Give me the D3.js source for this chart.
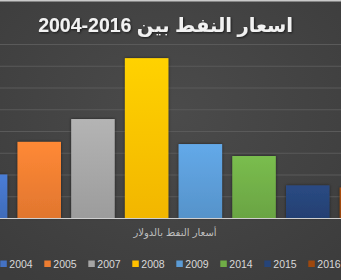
<!DOCTYPE html>
<html>
<head>
<meta charset="utf-8">
<script src="https://cdn.jsdelivr.net/npm/d3@7"></script>
<style>
  html, body { margin: 0; padding: 0; background: #424242; overflow: hidden; }
  svg { display: block; }
</style>
</head>
<body>
<svg></svg>
<script>
const width = 341;
const height = 280;

// data (oil price, dollars)
const years = ['2004', '2005', '2007', '2008', '2009', '2014', '2015', '2016'];
const prices = [40, 70, 91, 147, 68, 57, 30, 28];
const colors = ['#4472c4', '#ed7d31', '#a5a5a5', '#ffc000', '#5b9bd5', '#70ad47', '#264478', '#9e480e'];
const yTicks = [0, 20, 40, 60, 80, 100, 120, 140, 160];

// numbers after arabic letters are laid out right to left, so 2016 comes first here
const titleText = 'اسعار النفط بين 2016-2004';
const axisTitle = 'أسعار النفط بالدولار';

let data = years.map((y, i) => ({ year: y, price: prices[i], color: colors[i] }));

// the chart is cropped on both sides, so the band range runs past the edges
let xScale = d3.scaleBand()
               .domain(years)
               .range([-41.3, 388.3])
               .paddingInner(0.19)
               .paddingOuter(0.095);

let yScale = d3.scaleLinear()
               .domain([0, 160])
               .range([218, 44]);

let svg = d3.select('svg')
            .attr('width', width)
            .attr('height', height);

let defs = svg.append('defs');

let bg = defs.append('radialGradient')
  .attr('id', 'bg')
  .attr('cx', '50%').attr('cy', '40%').attr('r', '75%');
bg.append('stop').attr('offset', '0%').attr('stop-color', '#4b4b4b');
bg.append('stop').attr('offset', '100%').attr('stop-color', '#3c3c3c');

data.forEach((d, i) => {
  let g = defs.append('linearGradient')
    .attr('id', 'bar' + i)
    .attr('x1', 0).attr('y1', 0).attr('x2', 0).attr('y2', 1);
  g.append('stop').attr('offset', '0%').attr('stop-color', d3.color(d.color).brighter(0.25));
  g.append('stop').attr('offset', '100%').attr('stop-color', d3.color(d.color).darker(0.15));
});

let shadow = defs.append('filter')
  .attr('id', 'shadow')
  .attr('x', '-20%').attr('y', '-20%').attr('width', '140%').attr('height', '140%');
shadow.append('feDropShadow')
  .attr('dx', 0).attr('dy', 0).attr('stdDeviation', 1.6)
  .attr('flood-color', '#000').attr('flood-opacity', 0.55);

let tshadow = defs.append('filter').attr('id', 'tshadow');
tshadow.append('feDropShadow')
  .attr('dx', 1).attr('dy', 1).attr('stdDeviation', 0.8)
  .attr('flood-color', '#000').attr('flood-opacity', 0.6);

svg.append('rect')
  .attr('width', width)
  .attr('height', height)
  .attr('fill', 'url(#bg)');

svg.append('rect')
  .attr('width', width)
  .attr('height', 1.5)
  .attr('fill', '#c9c9c9');

// Gridlines
svg.append('g')
  .classed('grid', true)
  .call(d3.axisRight(yScale).tickValues(yTicks.slice(1)).tickSize(width).tickFormat(''))
  .call(g => g.select('.domain').remove())
  .call(g => g.selectAll('line').attr('stroke', '#5a5a5a').attr('stroke-width', 1));

// Bars
svg.selectAll('.bar')
  .data(data)
  .enter()
  .append('rect')
    .classed('bar', true)
    .attr('x', d => xScale(d.year))
    .attr('y', d => yScale(d.price))
    .attr('width', xScale.bandwidth())
    .attr('height', d => yScale(0) - yScale(d.price))
    .attr('fill', (d, i) => 'url(#bar' + i + ')')
    .attr('filter', 'url(#shadow)');

// X - Axis baseline
svg.append('g')
  .classed('x-axis', true)
  .attr('transform', 'translate(0,' + yScale(0) + ')')
  .call(d3.axisBottom(xScale).tickSize(0).tickFormat(''))
  .call(g => g.select('.domain').attr('d', 'M0,0.5H' + width).attr('stroke', '#cfcfcf').attr('stroke-width', 1.2));

// Title
svg.append('text')
  .text(titleText)
  .attr('x', 165.5)
  .attr('y', 31.5)
  .attr('direction', 'rtl')
  .style('text-anchor', 'middle')
  .style('font-family', '"Liberation Sans", "DejaVu Sans", sans-serif')
  .style('font-weight', 'bold')
  .style('font-size', '19.5px')
  .attr('fill', '#f2f2f2')
  .attr('filter', 'url(#tshadow)');

svg.append('text')
  .text(axisTitle)
  .attr('x', 175)
  .attr('y', 236)
  .attr('direction', 'rtl')
  .style('text-anchor', 'middle')
  .style('font-family', '"DejaVu Sans", sans-serif')
  .style('font-size', '10px')
  .attr('fill', '#bfbfbf');

// Legend
let legendX = d3.scalePoint()
                .domain(years)
                .range([0.3, 308.3]);

let legend = svg.selectAll('.legend')
  .data(data)
  .enter()
  .append('g')
    .classed('legend', true)
    .attr('transform', d => 'translate(' + legendX(d.year) + ',264)');

legend.append('rect')
  .attr('x', 0)
  .attr('y', -3.5)
  .attr('width', 6.5)
  .attr('height', 6.5)
  .attr('fill', d => d.color);

legend.append('text')
  .text(d => d.year)
  .attr('x', 9)
  .attr('y', 4)
  .style('font-family', '"Liberation Sans", sans-serif')
  .style('font-size', '10.5px')
  .attr('fill', '#d9d9d9');
</script>
</body>
</html>
